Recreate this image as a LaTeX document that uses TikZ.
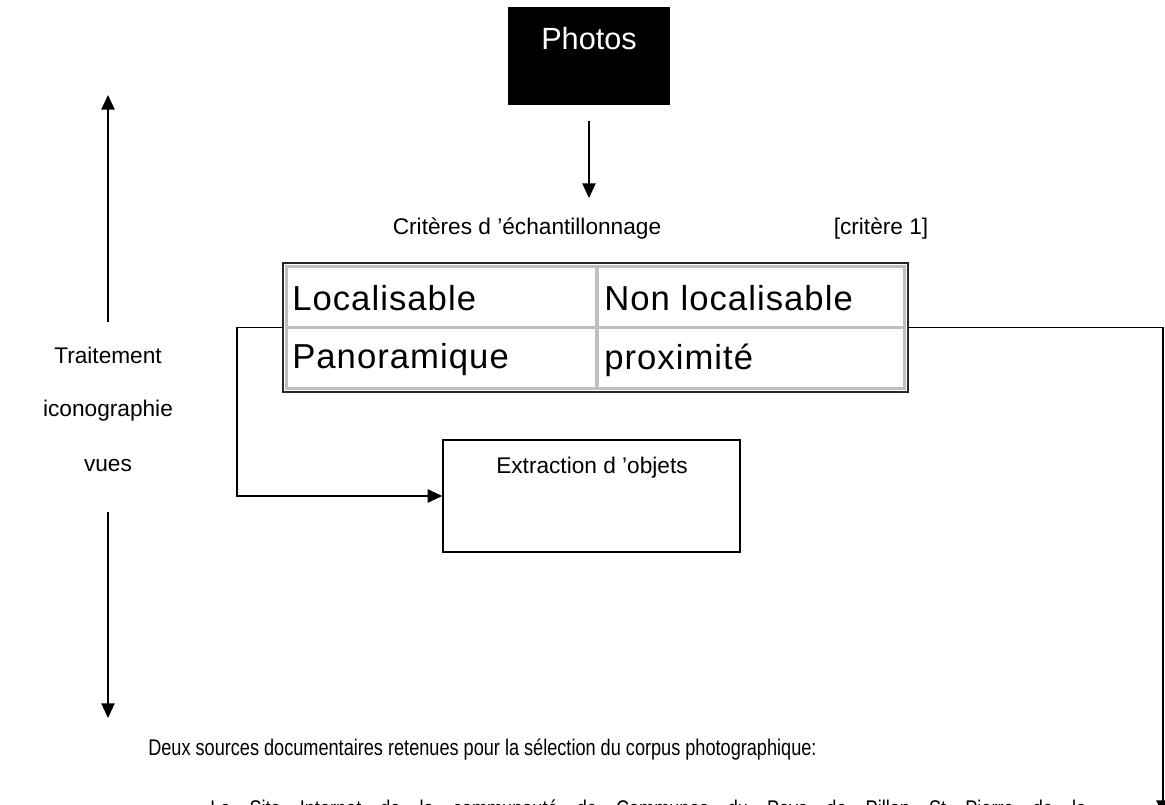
\documentclass[tikz,border=0pt]{standalone}
\usepackage{fontspec}
\setmainfont{Liberation Sans}
\newfontfamily\narrowfont[FakeStretch=0.8]{Liberation Sans}
\newfontfamily\cellfont[LetterSpace=3]{Liberation Sans}
\usetikzlibrary{arrows.meta}
\begin{document}
\begin{tikzpicture}[x=0.75pt,y=-0.75pt,
  lbl/.style={inner sep=0, font=\fontsize{17}{20}\selectfont},
  celltxt/.style={inner sep=0, anchor=west, font=\cellfont\fontsize{26}{30}\selectfont},
  conn/.style={line width=1pt, -{Triangle[length=11pt,width=10pt]}},
  boxw/.style={draw=black, line width=1pt, fill=white, inner sep=0},
]
\useasboundingbox (0,0) rectangle (1165,805);
\clip (0,0) rectangle (1165,805);

% Photos
\node (photos) [fill=black, inner sep=0, minimum width=121.5pt, minimum height=74pt] at (589,56) {};
\node (photoslbl) [inner sep=0, text=white, font=\fontsize{23}{27}\selectfont] at (589,39) {Photos};

% criteria
\node (crit) [lbl] at (527,229) {Critères d ’échantillonnage};
\node (crit1) [lbl] at (881,229) {[critère 1]};
\draw[conn] ([yshift=-11.25pt]photos.south) -- ([yshift=15pt]crit.north -| photos.south);

% table
\node (tab) [inner sep=0, minimum width=468.75pt, minimum height=96.75pt] at (595.5,327.5) {};
\draw[black!85, line width=1.5pt] (tab.north west) rectangle (tab.south east);
\draw[black!25, line width=2.4pt] (286.5,266.5) rectangle (904.5,388.5);
\draw[black!25, line width=2.4pt] (597,266) -- (597,389);
\draw[black!25, line width=2.4pt] (286,327.5) -- (905,327.5);
\node (c11) [celltxt] at (292,298) {Localisable};
\node (c12) [celltxt] at (604,298) {Non localisable};
\node (c21) [celltxt] at (292,360) {Panoramique};
\node (c22) [celltxt] at (604,360) {proximité};

% extraction
\node (extr) [boxw, minimum width=222.75pt, minimum height=84pt] at (591.5,496) {};
\node (extrlbl) [lbl] at (592,468) {Extraction d ’objets};

\coordinate (lc) at (237,327.5);
\draw[conn] (tab.west) -- (lc) |- (extr.west);
\coordinate (rend) at (1163,815);
\draw[conn] (tab.east) -| (rend);

% left vertical
\node (trait) [lbl] at (108,355) {Traitement};
\node (icono) [lbl] at (108,411) {iconographie};
\node (vues) [lbl] at (108,466) {vues};
\coordinate (ltop) at (108,95);
\coordinate (lbot) at (108,718);
\draw[conn] ([yshift=18pt]trait.north) -- (ltop);
\draw[conn] ([yshift=-30pt]vues.south) -- (lbot);

% bottom texts
\node (deux) [inner sep=0, anchor=west, font=\narrowfont\fontsize{17}{20}\selectfont] at (148,750) {Deux sources documentaires retenues pour la sélection du corpus photographique:};
\node (site) [inner sep=0, anchor=north west, font=\narrowfont\fontsize{17}{20}\selectfont] at (210,800) {\makebox[657pt][s]{Le Site Internet de la communauté de Communes du Pays de Pillon St Pierre de la}};
\end{tikzpicture}
\end{document}
